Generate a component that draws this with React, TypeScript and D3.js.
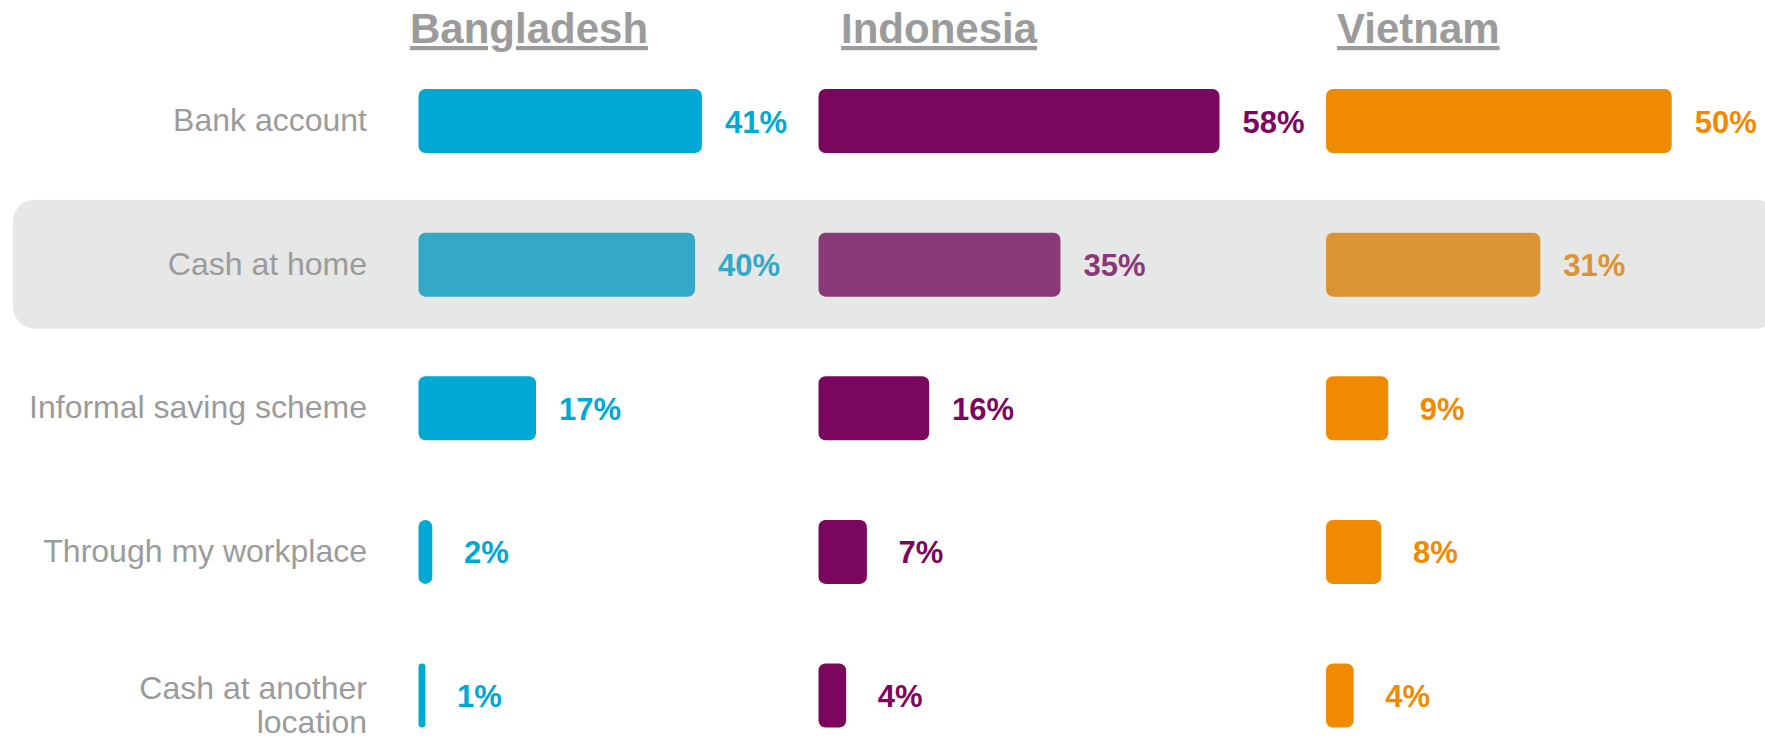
import React from "react"
import { scaleLinear, scalePoint, interpolateRgb } from "d3"

const categories = [
  "Bank account",
  "Cash at home",
  "Informal saving scheme",
  "Through my workplace",
  "Cash at another location",
]
const countries = ["Bangladesh", "Indonesia", "Vietnam"]
const bangladesh = [41, 40, 17, 2, 1]
const indonesia = [58, 35, 16, 7, 4]
const vietnam = [50, 31, 9, 8, 4]
const highlighted = "Cash at home"

const series = [bangladesh, indonesia, vietnam]
const colors = ["#00A9D4", "#7B065E", "#F08A00"]

const App = () => {
  const width = 1765
  const height = 740
  const font = "'Liberation Sans', Arial, sans-serif"
  const grey = "#9B9B9B"
  const colX = [418.5, 818.5, 1326]
  const titleX = [410, 841, 1337]
  const barH = 64
  const labelRight = 367

  const xScale = scaleLinear().domain([0, 58]).range([0, 401])
  const yScale = scalePoint().domain(categories).range([121, 695.5])

  // break long category names into two lines
  const wrap = (s) => {
    if (s.length <= 22) return [s]
    const i = s.lastIndexOf(" ")
    return [s.slice(0, i), s.slice(i + 1)]
  }

  // the highlighted row is dimmed by a grey veil
  const dim = (c) => interpolateRgb(c, "#A9A9A9")(0.31)

  return (
    <svg
      width={width}
      height={height}
      style={{ position: "absolute", left: 0, top: 0 }}
      fontFamily={font}
    >
      <rect
        x={13}
        y={yScale(highlighted) - 65}
        width={width}
        height={129}
        rx={22}
        fill="#E6E7E7"
      />
      {countries.map((c, j) => (
        <text
          key={c}
          x={titleX[j]}
          y={43}
          fontSize={42}
          fontWeight="bold"
          fill={grey}
          style={{
            textDecoration: "underline",
            textDecorationThickness: "3.5px",
            textUnderlineOffset: "6px",
          }}
        >
          {c}
        </text>
      ))}
      {categories.map((cat) => {
        const lines = wrap(cat)
        const y0 = yScale(cat) + (lines.length > 1 ? 3 : 10)
        return (
          <text
            key={cat}
            x={labelRight}
            y={y0}
            fontSize={32}
            fill={grey}
            textAnchor="end"
          >
            {lines.map((l, k) => (
              <tspan key={k} x={labelRight} dy={k === 0 ? 0 : 34}>
                {l}
              </tspan>
            ))}
          </text>
        )
      })}
      {series.map((values, j) =>
        values.map((v, i) => {
          const cat = categories[i]
          const cy = yScale(cat)
          const fill = cat === highlighted ? dim(colors[j]) : colors[j]
          const w = xScale(v)
          return (
            <g key={`${j}-${i}`}>
              <rect
                x={colX[j]}
                y={cy - barH / 2}
                width={w}
                height={barH}
                rx={Math.min(7, w / 2)}
                fill={fill}
              />
              <text
                x={colX[j] + w + 54}
                y={cy + 11.5}
                fontSize={31}
                fontWeight="bold"
                fill={fill}
                textAnchor="middle"
              >
                {v}%
              </text>
            </g>
          )
        })
      )}
    </svg>
  )
}

export default App
